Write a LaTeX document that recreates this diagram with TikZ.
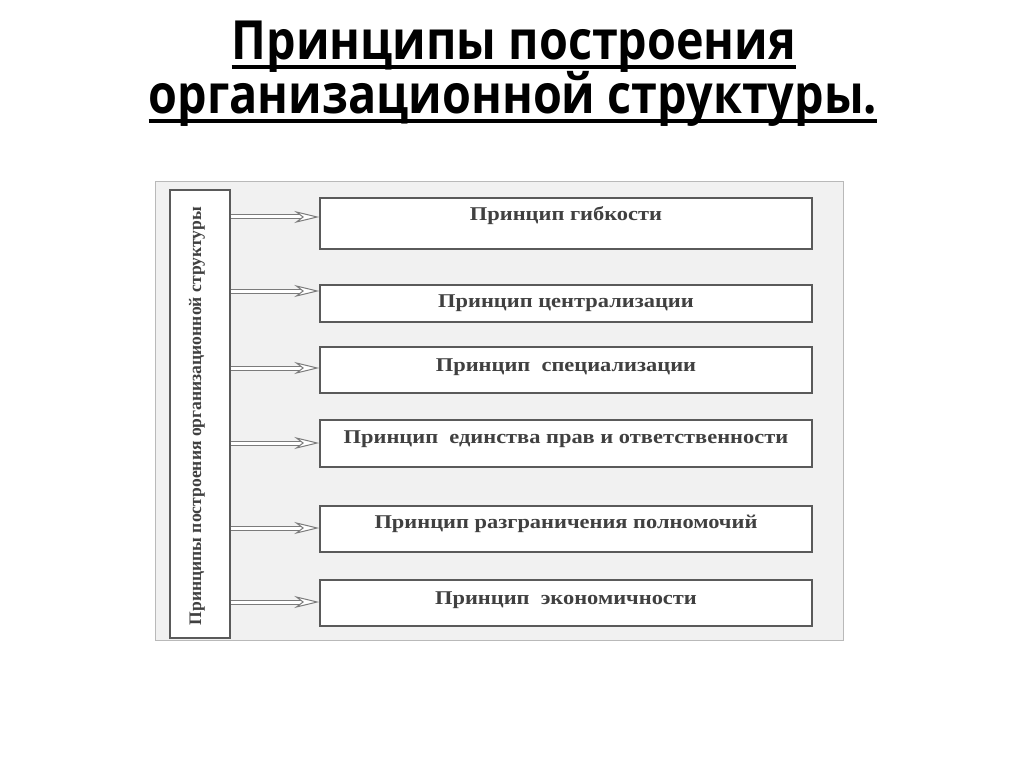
\documentclass[tikz,border=0pt]{standalone}
\usepackage{fontspec}
\setmainfont{Liberation Serif}
\newfontfamily\headfont[FakeStretch=0.865]{Open Sans}
\newfontfamily\boxfont[FakeStretch=1.15]{Liberation Serif}
\usetikzlibrary{arrows.meta,positioning}
\definecolor{panelgray}{HTML}{F1F1F1}
\definecolor{edgegray}{HTML}{5A5A5A}

\begin{document}
\begin{tikzpicture}[
  x=1pt, y=-1pt,
  title/.style={font=\headfont\bfseries\fontsize{54}{60}\selectfont, inner sep=0pt, anchor=base},
  box/.style={draw=edgegray, fill=white, line width=1.4pt, inner sep=0pt, minimum width=492pt},
  lbl/.style={font=\boxfont\bfseries\fontsize{19.5}{22}\selectfont, text=black!75, inner sep=0pt, anchor=base},
  arrow/.style={double=white, draw=edgegray!80, double distance=3pt, line width=1pt,
    -{Stealth[fill=white, length=25pt, width=12pt, inset=8pt, line width=1pt]}, shorten >=0pt},
]
\useasboundingbox (0,0) rectangle (1024,767);
% --- title ---
\node[title] (t1) at (514,60) {Принципы построения};
\node[title] (t2) at (513,114) {организационной структуры.};
\draw[line width=3.5pt] (t1.west |- 0,67) -- (t1.east |- 0,67);
\draw[line width=3.5pt] (t2.west |- 0,121) -- (t2.east |- 0,121);
% --- panel and left column ---
\node[draw=gray!55, fill=panelgray, line width=1pt, minimum width=688pt, minimum height=458pt, inner sep=0pt]
  (panel) at (499,411) {};
\node[box, minimum width=60pt, minimum height=448pt] (root) at (200,414) {};
\node[lbl, font=\bfseries\fontsize{17.6}{22}\selectfont, rotate=90, anchor=center] (rootlbl)
  at ([xshift=-3pt, yshift=-2pt]root.center) {Принципы построения организационной структуры};
% --- principle boxes (right column) ---
\node[box, minimum height=51pt] (b1) at (566,223.5) {};
\node[box, minimum height=37pt] (b2) at (566,303.5) {};
\node[box, minimum height=46pt] (b3) at (566,370) {};
\node[box, minimum height=47pt] (b4) at (566,443.5) {};
\node[box, minimum height=46pt] (b5) at (566,529) {};
\node[box, minimum height=46pt] (b6) at (566,603) {};
\node[lbl] (l1) at (566,221) {Принцип гибкости};
\node[lbl] (l2) at (566,307) {Принцип централизации};
\node[lbl] (l3) at (566,371) {Принцип\ \ специализации};
\node[lbl] (l4) at (566,443) {Принцип\ \ единства прав и ответственности};
\node[lbl] (l5) at (566,528) {Принцип разграничения полномочий};
\node[lbl] (l6) at (566,604) {Принцип\ \ экономичности};
% --- arrows ---
\draw[arrow] (root.east |- 0,217) -- (b1.west |- 0,217);
\draw[arrow] (root.east |- 0,291) -- (b2.west |- 0,291);
\draw[arrow] (root.east |- 0,368) -- (b3.west |- 0,368);
\draw[arrow] (root.east |- 0,443) -- (b4.west |- 0,443);
\draw[arrow] (root.east |- 0,528) -- (b5.west |- 0,528);
\draw[arrow] (root.east |- 0,602) -- (b6.west |- 0,602);
\end{tikzpicture}
\end{document}
